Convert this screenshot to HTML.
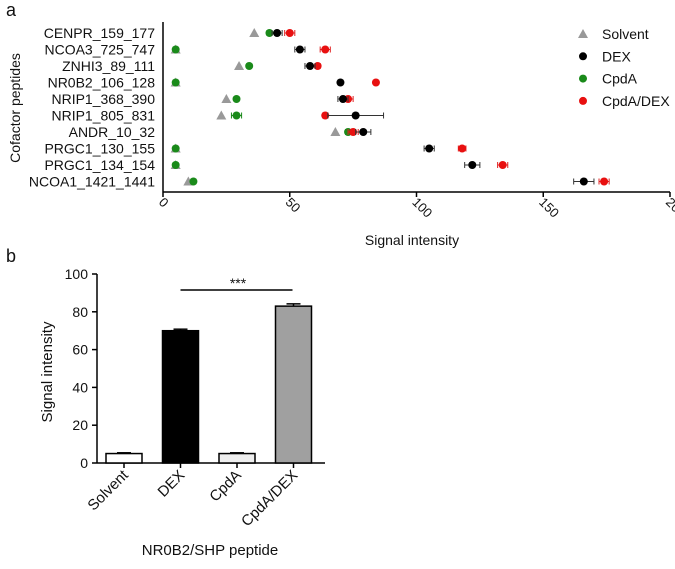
<!DOCTYPE html>
<html><head><meta charset="utf-8"><style>
body{margin:0;background:#fff;font-family:"Liberation Sans",sans-serif}
svg text{font-family:"Liberation Sans",sans-serif;fill:#111}
</style></head><body>
<svg width="675" height="564" viewBox="0 0 675 564" id="fig">
<text x="6" y="16" font-size="18">a</text>
<text x="6" y="262" font-size="18">b</text>
<g id="pa"></g>
<g id="pb"></g>
</svg>
<script>
const peptides=["CENPR_159_177","NCOA3_725_747","ZNHI3_89_111","NR0B2_106_128","NRIP1_368_390","NRIP1_805_831","ANDR_10_32","PRGC1_130_155","PRGC1_134_154","NCOA1_1421_1441"];
const solventVals=[36,5,30,5,25,23,68,5,5,10];
const dexVals=[45,54,58,70,71,76,79,105,122,166];
const dexErr=[2,2,2,0.5,2,11,3,2,3,4];
const cpdaVals=[42,5,34,5,29,29,73,5,5,12];
const cpdaErr=[1,0.5,0.5,0.5,0.5,2,1,0.5,0.5,0.5];
const mixVals=[50,64,61,84,73,64,75,118,134,174];
const mixErr=[2,2,1,0.5,2,1,2,1.5,2,2];
const xTicks=[0,50,100,150,200];
const barCats=["Solvent","DEX","CpdA","CpdA/DEX"];
const barVals=[5,70,5,83];
const barErr=[0.4,0.8,0.4,1.2];
const yTicks=[0,20,40,60,80,100];
const NS="http://www.w3.org/2000/svg";
function mk(p,t,a){const e=document.createElementNS(NS,t);for(const k in a)e.setAttribute(k,a[k]);p.appendChild(e);return e;}
// panel a
const pa=document.getElementById('pa');
const ax=v=>163+v*2.535, ay=i=>33+i*16.5;
let l=mk(pa,'line',{x1:163,y1:22,x2:163,y2:192,stroke:'#000','stroke-width':1.5});

l=mk(pa,'line',{x1:163,y1:192,x2:670,y2:192,stroke:'#000','stroke-width':1.5});

peptides.forEach((p,i)=>{const t=mk(pa,'text',{x:155,y:ay(i)+5,'font-size':14,'text-anchor':'end'});t.textContent=p;
});
xTicks.forEach(v=>{mk(pa,'line',{x1:ax(v),y1:192,x2:ax(v),y2:197,stroke:'#000','stroke-width':1.5});
const t=mk(pa,'text',{x:0,y:0,'font-size':13,'text-anchor':'start',transform:`translate(${ax(v)-5},${203}) rotate(45)`});t.textContent=v;
});
let t=mk(pa,'text',{x:412,y:245,'font-size':14,'text-anchor':'middle'});t.textContent='Signal intensity';

t=mk(pa,'text',{x:0,y:0,'font-size':14,'text-anchor':'middle',transform:'translate(20,108) rotate(-90)'});t.textContent='Cofactor peptides';

function errbar(v,e,i,c){const y=ay(i);mk(pa,'line',{x1:ax(v-e),y1:y,x2:ax(v+e),y2:y,stroke:c,'stroke-width':1});
mk(pa,'line',{x1:ax(v-e),y1:y-3,x2:ax(v-e),y2:y+3,stroke:c});mk(pa,'line',{x1:ax(v+e),y1:y-3,x2:ax(v+e),y2:y+3,stroke:c});}
function tri(x,y){return `${x},${y-5} ${x-5},${y+4} ${x+5},${y+4}`;}
peptides.forEach((p,i)=>{const y=ay(i);
 const s=mk(pa,'polygon',{points:tri(ax(solventVals[i]),y),fill:'#999'});
 errbar(cpdaVals[i],cpdaErr[i],i,'#1a8a1a');
 const g=mk(pa,'circle',{cx:ax(cpdaVals[i]),cy:y,r:4,fill:'#1a8a1a'});
 errbar(mixVals[i],mixErr[i],i,'#e02020');
 const r=mk(pa,'circle',{cx:ax(mixVals[i]),cy:y,r:4,fill:'#e81010'});
 errbar(dexVals[i],dexErr[i],i,'#333');
 const d=mk(pa,'circle',{cx:ax(dexVals[i]),cy:y,r:4,fill:'#000'});
});
const leg=[["Solvent","#999",1],["DEX","#000",0],["CpdA","#1a8a1a",0],["CpdA/DEX","#e81010",0]];
leg.forEach((e,i)=>{const y=34+i*22.3;const g=mk(pa,'g',{});
 
 if(e[2])mk(g,'polygon',{points:tri(583,y),fill:e[1]});else mk(g,'circle',{cx:583,cy:y,r:4,fill:e[1]});
 const tt=mk(g,'text',{x:602,y:y+5,'font-size':14});tt.textContent=e[0];});
// panel b
const pb=document.getElementById('pb');
const by=v=>463-v*1.89, bx=i=>124+i*56.5;
l=mk(pb,'line',{x1:97,y1:274,x2:97,y2:463,stroke:'#000','stroke-width':1.5});

l=mk(pb,'line',{x1:97,y1:463,x2:325,y2:463,stroke:'#000','stroke-width':1.5});

yTicks.forEach(v=>{mk(pb,'line',{x1:92,y1:by(v),x2:97,y2:by(v),stroke:'#000','stroke-width':1.5});
const tt=mk(pb,'text',{x:88,y:by(v)+5,'font-size':14,'text-anchor':'end'});tt.textContent=v;
});
const fills=['#fff','#000','#eee','#a0a0a0'];
barCats.forEach((c,i)=>{const x=bx(i);
 mk(pb,'line',{x1:x,y1:by(barVals[i]+barErr[i]),x2:x,y2:by(barVals[i]),stroke:'#000','stroke-width':1.5});
 mk(pb,'line',{x1:x-7,y1:by(barVals[i]+barErr[i]),x2:x+7,y2:by(barVals[i]+barErr[i]),stroke:'#000','stroke-width':1.5});
 const r=mk(pb,'rect',{x:x-18,y:by(barVals[i]),width:36,height:463-by(barVals[i]),fill:fills[i],stroke:'#000','stroke-width':1.5});
 
 mk(pb,'line',{x1:x,y1:463,x2:x,y2:468,stroke:'#000','stroke-width':1.5});
 const tt=mk(pb,'text',{x:0,y:0,'font-size':15,'text-anchor':'end',transform:`translate(${x+5},${476}) rotate(-45)`});tt.textContent=c;
 });
l=mk(pb,'line',{x1:bx(1),y1:290,x2:bx(3)-1,y2:290,stroke:'#000','stroke-width':1.5});

t=mk(pb,'text',{x:238,y:288,'font-size':14,'text-anchor':'middle'});t.textContent='***';

t=mk(pb,'text',{x:0,y:0,'font-size':15,'text-anchor':'middle',transform:'translate(52,372) rotate(-90)'});t.textContent='Signal intensity';

t=mk(pb,'text',{x:210,y:555,'font-size':15,'text-anchor':'middle'});t.textContent='NR0B2/SHP peptide';

</script>
</body></html>
